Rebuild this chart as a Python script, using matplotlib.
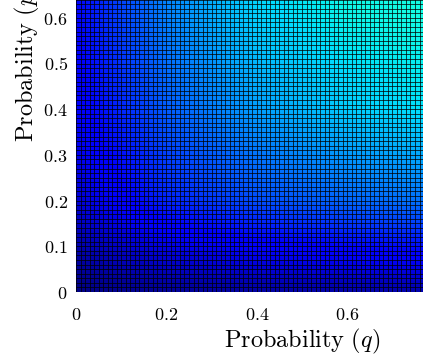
import numpy as np
import matplotlib.pyplot as plt

plt.rcParams['mathtext.fontset'] = 'cm'
plt.rcParams['font.family'] = 'serif'
plt.rcParams['font.serif'] = ['DejaVu Serif']

# estimated colour values (jet scale 0..1) read at coarse knots
q_knots = [0.0, 0.2, 0.4, 0.6, 0.8]
p_knots = [0.0, 0.2, 0.4, 0.6, 0.8]
values = [
    [0.005, 0.02, 0.03, 0.035, 0.04],   # p = 0.0
    [0.075, 0.16, 0.20, 0.225, 0.24],   # p = 0.2
    [0.11, 0.215, 0.28, 0.325, 0.35],   # p = 0.4
    [0.125, 0.25, 0.33, 0.365, 0.375],  # p = 0.6
    [0.14, 0.27, 0.355, 0.38, 0.385],   # p = 0.8
]
xticks = [0, 0.2, 0.4, 0.6, 0.8, 1.0]
yticks = [0, 0.1, 0.2, 0.3, 0.4, 0.5, 0.6, 0.7, 0.8, 0.9, 1.0]
cell = 0.01

fig = plt.figure(figsize=(4.23, 3.55), dpi=100)
# axes spans q, p in [0, 1]; the saved picture only shows the lower-left part
ax = fig.add_axes([76 / 423, 63 / 355, 452 / 423, 457 / 355])

dq = q_knots[1] - q_knots[0]
dp = p_knots[1] - p_knots[0]
ax.imshow(np.array(values), cmap='jet', vmin=0, vmax=1, origin='lower',
          interpolation='bilinear', aspect='auto',
          extent=[q_knots[0] - dq / 2, q_knots[-1] + dq / 2,
                  p_knots[0] - dp / 2, p_knots[-1] + dp / 2])

ax.set_xlim(0, 1)
ax.set_ylim(0, 1)

# cell edges
ax.set_xticks(np.arange(0, 1 + cell / 2, cell), minor=True)
ax.set_yticks(np.arange(0, 1 + cell / 2, cell), minor=True)
ax.grid(which='both', color='k', linewidth=0.6, alpha=0.85)
ax.set_axisbelow(False)

ax.set_xticks(xticks)
ax.set_xticklabels(['$%g$' % t for t in xticks])
ax.set_yticks(yticks)
ax.set_yticklabels(['$%g$' % t for t in yticks])
ax.tick_params(which='both', length=0)
ax.tick_params(axis='x', labelsize=13, pad=10)
ax.tick_params(axis='y', labelsize=13, pad=6)

for s in ax.spines.values():
    s.set_visible(False)

ax.set_xlabel(r'$\mathrm{Probability}\ (q)$', fontsize=17.5, labelpad=2)
ax.set_ylabel(r'$\mathrm{Probability}\ (p)$', fontsize=17.5, labelpad=0.5)

fig.savefig('out.png', dpi=100)
